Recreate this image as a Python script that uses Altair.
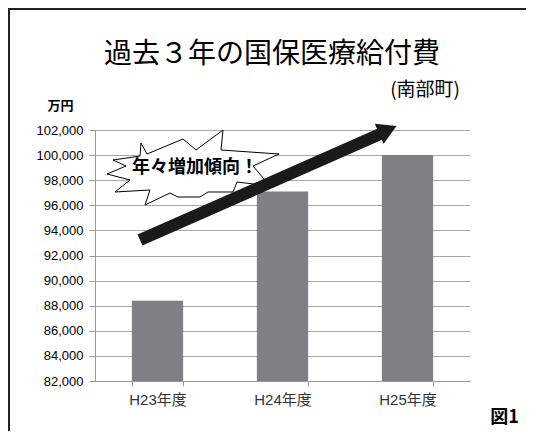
import altair as alt
import pandas as pd

# --- data ---
years = ["H23年度", "H24年度", "H25年度"]
costs = [88400, 97100, 100000]

y_ticks = [82000, 84000, 86000, 88000, 90000, 92000, 94000, 96000, 98000, 100000, 102000]

# annotation geometry, in data units (x: 0..3 across the three categories, y: 万円)
arrow_x = [0.36, 2.30]
arrow_y = [93235, 101760]
head_x = [2.343]
head_y = [102007]

star_x = [0.368, 0.416, 0.704, 0.808, 1.024, 1.008, 1.472, 1.264, 1.400, 1.136, 1.104, 0.904,
          0.840, 0.664, 0.600, 0.400, 0.440, 0.160, 0.280, 0.096, 0.248, 0.144, 0.360, 0.368]
star_y = [100964, 100087, 101283, 100406, 102000, 100406, 100087, 99131, 97538, 97856, 97060, 97060,
          96661, 96661, 96980, 96024, 97219, 97060, 98016, 98494, 99131, 99609, 99928, 100964]

callout_text = ["年々増加傾向！"]
callout_x = [0.80]
callout_y = [98972]

title_text = ["過去３年の国保医療給付費"]
title_x = [1.416]
title_y = [107976]

sub_text = ["(南部町)"]
sub_x = [2.92]
sub_y = [105187]

JP = "Noto Sans CJK JP"
NUM = "Liberation Sans, Noto Sans CJK JP"

yscale = alt.Scale(domain=[82000, 102000], nice=False, zero=False)
xq = alt.X("x:Q", scale=alt.Scale(domain=[0, 3], nice=False, zero=False), axis=None)


def Yq(field):
    return alt.Y(field, scale=yscale, title="万円",
                 axis=alt.Axis(values=y_ticks, format=","))


bars_df = pd.DataFrame({"year": years, "cost": costs, "base": [82000] * 3})
bars = alt.Chart(bars_df).mark_bar(color="#808084").encode(
    x=alt.X("year:N", sort=years, title="図1",
            scale=alt.Scale(paddingInner=0.59, paddingOuter=0.295)),
    y=Yq("cost:Q"),
    y2="base:Q",
)

star_df = pd.DataFrame({"x": star_x, "y": star_y, "o": list(range(len(star_x)))})
star = alt.Chart(star_df).mark_line(fill="white", stroke="black", strokeWidth=1,
                                    interpolate="linear", clip=False).encode(
    x=xq, y=Yq("y:Q"), order="o:Q")

callout_df = pd.DataFrame({"t": callout_text, "x": callout_x, "y": callout_y})
callout = alt.Chart(callout_df).mark_text(font=JP, fontSize=18, fontWeight="bold",
                                          color="black", baseline="middle").encode(
    x=xq, y=Yq("y:Q"), text="t:N")

arrow_df = pd.DataFrame({"x": arrow_x, "y": arrow_y, "o": [0, 1]})
arrow = alt.Chart(arrow_df).mark_line(color="#1a1a1a", strokeWidth=12, strokeCap="butt",
                                      clip=False).encode(
    x=xq, y=Yq("y:Q"), order="o:Q")

head_df = pd.DataFrame({"x": head_x, "y": head_y})
head = alt.Chart(head_df).mark_point(shape="triangle-up", filled=True, fill="#1a1a1a",
                                     strokeWidth=0, size=480, angle=66, opacity=1).encode(
    x=xq, y=Yq("y:Q"))

title_df = pd.DataFrame({"t": title_text, "x": title_x, "y": title_y})
title = alt.Chart(title_df).mark_text(font=JP, fontSize=28, color="black",
                                      baseline="middle", align="center").encode(
    x=xq, y=Yq("y:Q"), text="t:N")

sub_df = pd.DataFrame({"t": sub_text, "x": sub_x, "y": sub_y})
sub = alt.Chart(sub_df).mark_text(font=JP, fontSize=19, color="black",
                                  baseline="middle", align="right").encode(
    x=xq, y=Yq("y:Q"), text="t:N")

# chart frame (left and top edges of the surrounding box)
frame_df = pd.DataFrame({"k": [0]})
frame_left = alt.Chart(frame_df).mark_rule(color="#222222", strokeWidth=2).encode(
    x=alt.value(-86), y=alt.value(-121), y2=alt.value(310))
frame_top = alt.Chart(frame_df).mark_rule(color="#222222", strokeWidth=2).encode(
    x=alt.value(-87), x2=alt.value(440), y=alt.value(-121))

chart = alt.layer(bars, star, callout, arrow, head, title, sub, frame_left, frame_top).resolve_scale(
    x="independent"
).properties(
    width=375, height=251,
    padding={"left": 87, "top": 122, "right": 56, "bottom": 50},
    autosize=alt.AutoSizeParams(type="none"),
).configure_view(stroke=None).configure_axisY(
    labelFont=NUM, labelFontSize=13, labelColor="black", labelPadding=6,
    labelExpr="format(datum.value, ',')",
    tickSize=6, tickColor="#999999", domainColor="#999999",
    gridColor="#a8a8a8", gridWidth=1,
    titleFont=JP, titleFontSize=13, titleFontWeight="bold", titleColor="black",
    titleAngle=0, titleX=-35, titleY=-25, titleAlign="center", titleBaseline="middle",
).configure_axisX(
    labelFont=NUM, labelFontSize=15, labelColor="#333333", labelPadding=6, labelAngle=0,
    tickSize=5, tickColor="#999999", domainColor="#999999", tickBand="extent", grid=False,
    titleFont=JP, titleFontSize=18, titleFontWeight="bold", titleColor="black",
    titleX=409, titleY=36, titleAlign="center", titleBaseline="middle",
)

chart.save("out.html", embed_options={"renderer": "svg", "actions": False})
